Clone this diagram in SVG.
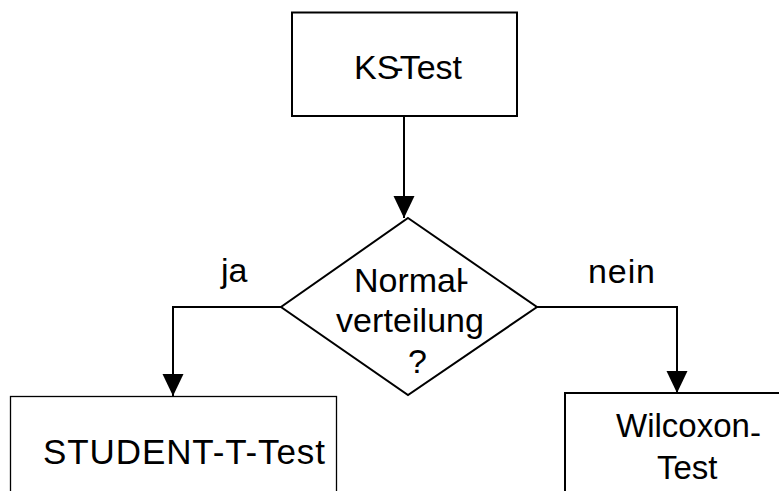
<svg xmlns="http://www.w3.org/2000/svg" width="779" height="491" viewBox="0 0 779 491">
<style>
  .box{fill:#fff;stroke:#000;stroke-width:2}
  .thin{stroke-width:1.3}
  .t{font-family:"Liberation Sans",Arial,sans-serif;fill:#000}
  .c{fill:none;stroke:#000;stroke-width:2}
</style>
<defs>
  <marker id="ah" markerUnits="userSpaceOnUse" markerWidth="22" markerHeight="22" refX="22" refY="10.5" orient="auto">
    <path d="M0,0 L22,10.5 L0,21 z" fill="#000"/>
  </marker>
</defs>
<rect width="779" height="491" fill="#fff"/>
<g id="connectors">
  <path class="c" d="M404,116 V218" marker-end="url(#ah)"/>
  <path class="c" d="M281,307 H173 V396" marker-end="url(#ah)"/>
  <path class="c" d="M537,307 H677 V393" marker-end="url(#ah)"/>
</g>
<g id="ks">
  <rect class="box" x="292" y="12.5" width="225" height="103.5"/>
  <text class="t" x="354" y="78.5" font-size="34">KS<tspan dx="-7">-</tspan><tspan dx="-4">Test</tspan></text>
</g>
<g id="decision">
  <polygon class="box" points="408,218 537,307 408,395 281,307"/>
  <text class="t" x="354" y="292" font-size="34">Normal<tspan dx="-6">-</tspan></text>
  <text class="t" x="336" y="332" font-size="34" textLength="148" lengthAdjust="spacing">verteilung</text>
  <text class="t" x="408" y="373" font-size="34">?</text>
</g>
<g id="labels">
  <text class="t" x="221" y="282" font-size="34">ja</text>
  <text class="t" x="588" y="283" font-size="34" textLength="67" lengthAdjust="spacing">nein</text>
</g>
<g id="student">
  <rect class="box thin" x="10.5" y="396.5" width="326" height="120"/>
  <text class="t" x="43" y="464" font-size="35" textLength="282" lengthAdjust="spacing">STUDENT-T-Test</text>
</g>
<g id="wilcoxon">
  <rect class="box" x="565" y="393" width="230" height="120"/>
  <text class="t" x="616" y="437" font-size="33">Wilcoxon<tspan dy="7">-</tspan></text>
  <text class="t" x="657" y="479" font-size="33">Test</text>
</g>
</svg>
